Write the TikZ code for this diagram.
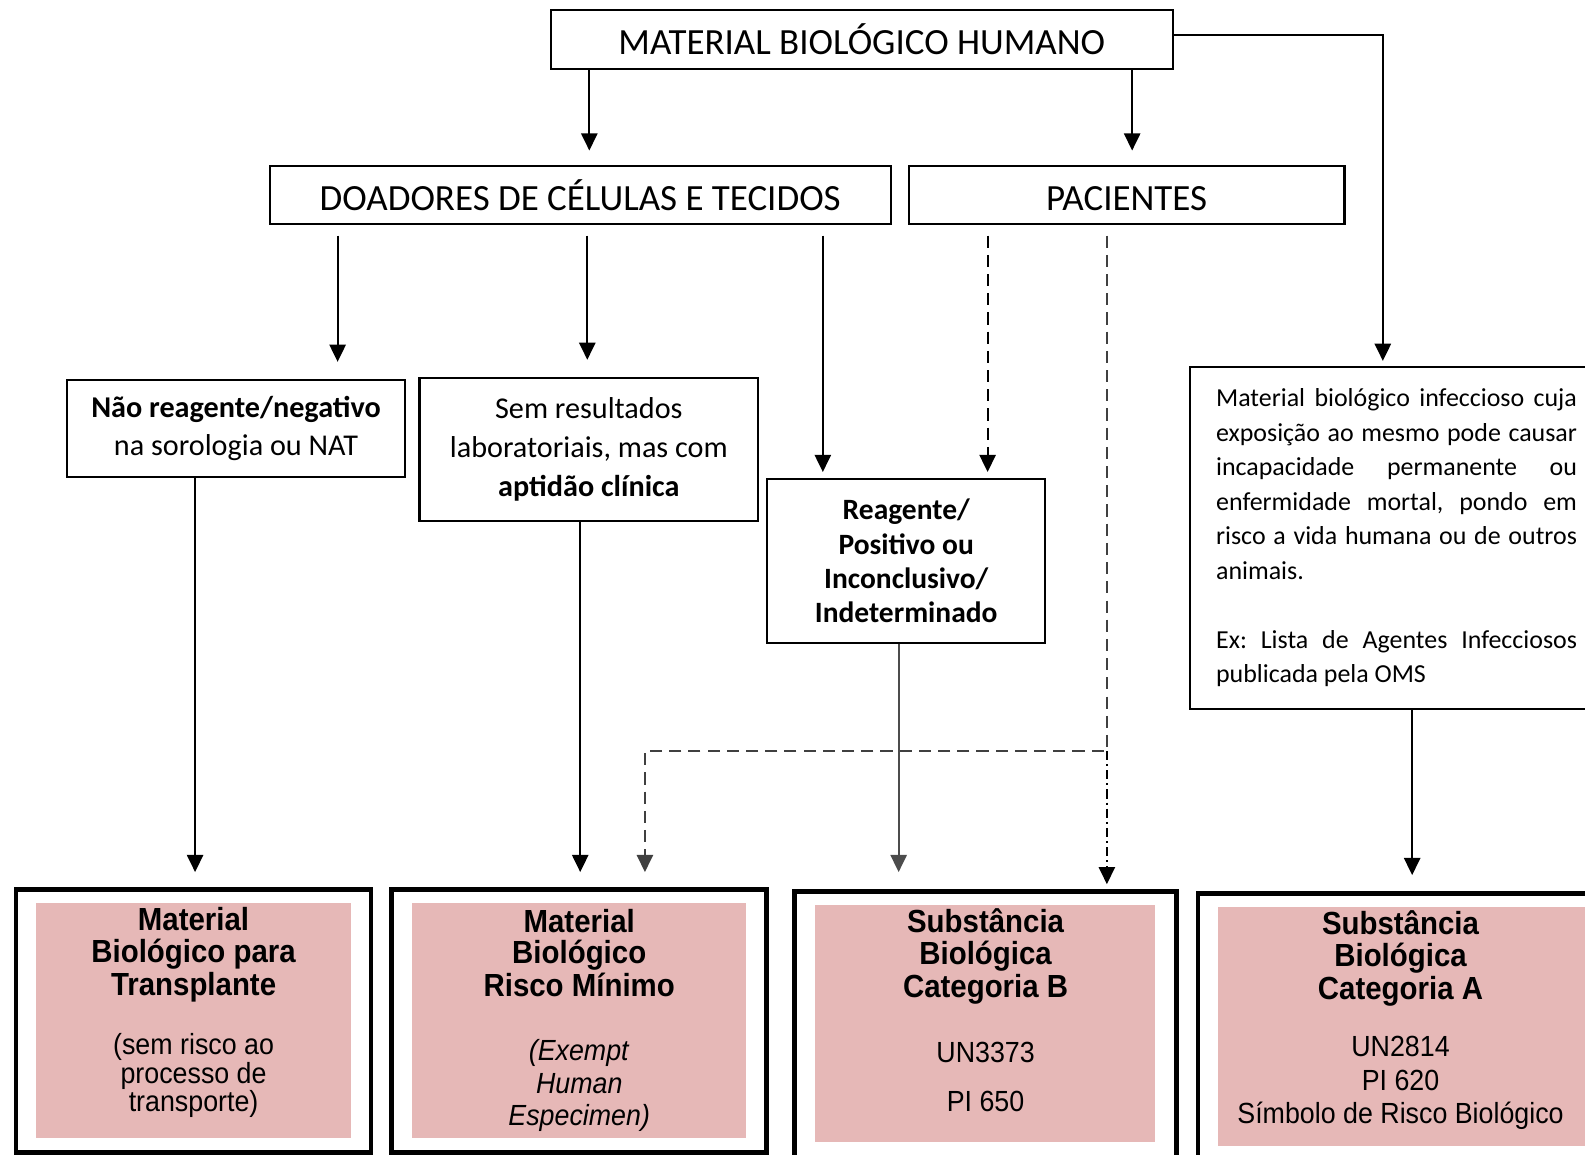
\documentclass[tikz,border=0pt]{standalone}
\usepackage{fontspec}
\setmainfont{Carlito}
\newfontfamily\arialn[FakeStretch=0.92]{Liberation Sans}
\usetikzlibrary{arrows.meta}
\definecolor{rosaclaro}{HTML}{E6B8B7}
\newcommand{\titulo}[1]{{\fontsize{9}{9.1}\selectfont\bfseries #1}}
\frenchspacing

\begin{document}
\begin{tikzpicture}[>={Triangle[width=0.16cm,length=0.17cm]},
  caixa/.style={draw, rectangle, line width=0.6pt, inner sep=0pt, align=center},
  cabec/.style={caixa, minimum height=0.58cm, text height=0.32cm, text depth=0.02cm, font=\fontsize{10.4}{12}\selectfont},
  final/.style={draw, rectangle, line width=1.3pt, inner sep=0pt},
  fundo/.style={fill=rosaclaro, rectangle, inner sep=0pt},
  texto/.style={anchor=north, inner sep=0pt, align=center, font=\arialn\fontsize{8.2}{9.1}\selectfont},
  linha/.style={->, line width=0.6pt},
  tracejado/.style={->, line width=0.6pt, dash pattern=on 0.12cm off 0.07cm},
  pontilhado/.style={->, line width=0.6pt, dash pattern=on 0.09cm off 0.04cm on 0.02cm off 0.04cm}]
\useasboundingbox (0,0) rectangle (15.68,-11.42);
\clip (0,0) rectangle (15.68,-11.42);

\node[cabec, minimum width=6.15cm] (hum) at (8.525,-0.39) {MATERIAL BIOLÓGICO HUMANO};
\node[cabec, minimum width=6.14cm] (doad) at (5.74,-1.93) {DOADORES DE CÉLULAS E TECIDOS};
\node[cabec, minimum width=4.31cm] (pac) at (11.145,-1.93) {PACIENTES};

\node[caixa, minimum width=3.35cm, minimum height=0.96cm, font=\fontsize{8.5}{10.8}\selectfont] (neg) at (2.335,-4.24) {\textbf{Não reagente/negativo}\\na sorologia ou NAT};
\node[caixa, minimum width=3.35cm, minimum height=1.41cm, font=\fontsize{8.5}{10.9}\selectfont] (sem) at (5.825,-4.445) {Sem resultados\\laboratoriais, mas com\\\textbf{aptidão clínica}};
\node[caixa, minimum width=2.75cm, minimum height=1.62cm, font=\bfseries\fontsize{8.3}{9.7}\selectfont] (reag) at (8.965,-5.55) {Reagente/\\Positivo ou\\Inconclusivo/\\Indeterminado};
\node[caixa, anchor=north west, minimum height=3.38cm, text width=3.57cm, inner xsep=0.26cm, align=justify, font=\fontsize{7.3}{9.7}\selectfont] (info) at (11.76,-3.62) {Material biológico infeccioso cuja\linebreak exposição ao mesmo pode causar\linebreak incapacidade permanente ou\linebreak enfermidade mortal, pondo em\linebreak risco a vida humana ou de outros\linebreak animais.\par\vspace{9.7pt}Ex: Lista de Agentes Infecciosos\linebreak publicada pela OMS};

% caixas finais
\node[final, minimum width=3.51cm, minimum height=2.60cm] (b1) at (1.915,-10.10) {};
\node[fundo, minimum width=3.11cm, minimum height=2.33cm] (b1f) at (1.915,-10.095) {};
\node[texto] (b1t) at (1.915,-8.97) {\titulo{Material}\\\titulo{Biológico para}\\\titulo{Transplante}\\[0.27cm](sem risco ao\\[-0.04cm]processo de\\[-0.04cm]transporte)};
\node[final, minimum width=3.71cm, minimum height=2.60cm] (b2) at (5.725,-10.10) {};
\node[fundo, minimum width=3.30cm, minimum height=2.33cm] (b2f) at (5.73,-10.095) {};
\node[texto] (b2t) at (5.73,-8.99) {\titulo{Material}\\[-0.01cm]\titulo{Biológico}\\\titulo{Risco Mínimo}\\[0.32cm]\textit{(Exempt}\\\textit{Human}\\\textit{Especimen)}};
\node[final, minimum width=3.78cm, minimum height=2.88cm] (b3) at (9.75,-10.26) {};
\node[fundo, minimum width=3.37cm, minimum height=2.35cm] (b3f) at (9.745,-10.125) {};
\node[texto] (b3t) at (9.75,-8.98) {\titulo{Substância}\\\titulo{Biológica}\\\titulo{Categoria B}\\[0.33cm]UN3373\\[0.16cm]PI 650};
\node[final, minimum width=4.25cm, minimum height=2.86cm] (b4) at (13.975,-10.27) {};
\node[fundo, minimum width=3.77cm, minimum height=2.37cm] (b4f) at (13.935,-10.155) {};
\node[texto] (b4t) at (13.855,-9.00) {\titulo{Substância}\\\titulo{Biológica}\\\titulo{Categoria A}\\[0.25cm]UN2814\\[0.02cm]PI 620\\Símbolo de Risco Biológico};

\foreach \nome/\x in {c193/1.93, c334/3.34, c574/5.74, c581/5.81, c583/5.83, c638/6.38, c814/8.14, c889/8.89, c977/9.77, c1095/10.95, c1120/11.20, c1368/13.68, c1397/13.97}
  \coordinate (\nome) at (\x,0);
\coordinate (canto) at (10.95,-7.43);

\draw[linha, shorten >=0.14cm] (hum.south -| c583) -- (doad.north -| c583);
\draw[linha, shorten >=0.14cm] (hum.south -| c1120) -- (pac.north -| c1120);
\draw[linha, shorten >=0.05cm] ([yshift=0.04cm]hum.east) -| (info.north -| c1368);
\draw[linha, shorten <=0.1cm, shorten >=0.17cm] (doad.south -| c334) -- (neg.north -| c334);
\draw[linha, shorten <=0.1cm, shorten >=0.17cm] (doad.south -| c581) -- (sem.north -| c581);
\draw[linha, shorten <=0.1cm, shorten >=0.06cm] (doad.south -| c814) -- (reag.north -| c814);
\draw[tracejado, shorten <=0.1cm, shorten >=0.06cm] (pac.south -| c977) -- (reag.north -| c977);
\draw[tracejado, black!75, shorten <=0.1cm, shorten >=0.15cm] (pac.south -| c1095) -- (canto) -- (canto -| c638) -- (b2.north -| c638);
\draw[pontilhado, shorten >=0.05cm] (canto) -- (b3.north -| canto);
\draw[linha, shorten >=0.15cm] (neg.south -| c193) -- (b1.north -| c193);
\draw[linha, shorten >=0.15cm] (sem.south -| c574) -- (b2.north -| c574);
\draw[linha, black!70, shorten >=0.17cm] (reag.south -| c889) -- (b3.north -| c889);
\draw[linha, shorten >=0.16cm] (info.south -| c1397) -- (b4.north -| c1397);
\end{tikzpicture}
\end{document}
